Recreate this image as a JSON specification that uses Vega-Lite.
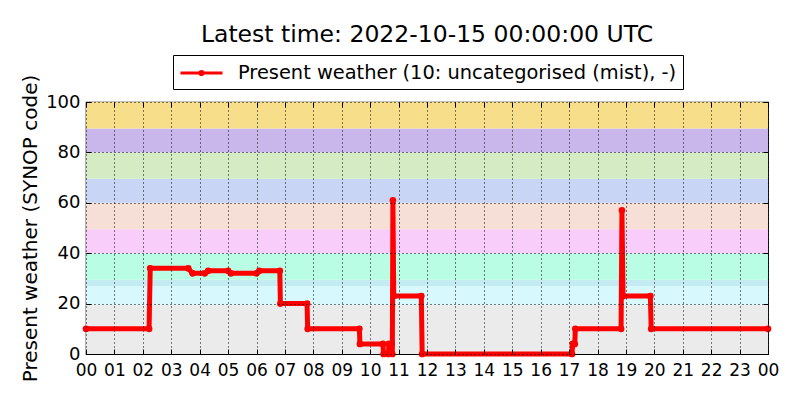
{
  "$schema": "https://vega.github.io/schema/vega-lite/v6.json",
  "width": 682,
  "height": 252,
  "autosize": "none",
  "padding": {"left": 86, "top": 102, "right": 32, "bottom": 46},
  "background": "white",
  "config": {
    "font": "DejaVu Sans",
    "view": {"stroke": "black", "strokeWidth": 1.2},
    "axis": {
      "labelFont": "DejaVu Sans",
      "titleFont": "DejaVu Sans",
      "labelColor": "black",
      "titleColor": "black",
      "tickColor": "black",
      "gridColor": "black",
      "gridDash": [1, 3],
      "gridOpacity": 1,
      "gridWidth": 1,
      "domain": false,
      "labelFontSize": 17,
      "titleFontSize": 20,
      "titleFontWeight": "normal",
      "tickSize": -5,
      "tickWidth": 1
    }
  },
  "title": {
    "text": "Latest time: 2022-10-15 00:00:00 UTC",
    "fontSize": 23.5,
    "fontWeight": "normal",
    "font": "DejaVu Sans",
    "color": "black",
    "anchor": "middle",
    "frame": "group",
    "offset": 8
  },
  "resolve": {"axis": {"x": "independent", "y": "independent"}},
  "datasets": {
    "bands": [
      {"lo": 0, "hi": 19.5, "band": "a"},
      {"lo": 19.5, "hi": 27, "band": "b"},
      {"lo": 27, "hi": 29.5, "band": "c"},
      {"lo": 29.5, "hi": 40, "band": "d"},
      {"lo": 40, "hi": 49.5, "band": "e"},
      {"lo": 49.5, "hi": 60, "band": "f"},
      {"lo": 60, "hi": 69.5, "band": "g"},
      {"lo": 69.5, "hi": 80, "band": "h"},
      {"lo": 80, "hi": 89.5, "band": "i"},
      {"lo": 89.5, "hi": 100, "band": "j"}
    ],
    "obs": [
      {"hour": 0, "code": 10},
      {"hour": 2.22, "code": 10},
      {"hour": 2.26, "code": 34},
      {"hour": 3.6, "code": 34},
      {"hour": 3.75, "code": 32},
      {"hour": 4.18, "code": 32},
      {"hour": 4.3, "code": 33},
      {"hour": 5.0, "code": 33},
      {"hour": 5.1, "code": 32},
      {"hour": 6.0, "code": 32},
      {"hour": 6.1, "code": 33},
      {"hour": 6.82, "code": 33},
      {"hour": 6.84, "code": 20},
      {"hour": 7.78, "code": 20},
      {"hour": 7.8, "code": 10},
      {"hour": 9.62, "code": 10},
      {"hour": 9.64, "code": 4},
      {"hour": 10.45, "code": 4},
      {"hour": 10.47, "code": 0},
      {"hour": 10.64, "code": 0},
      {"hour": 10.66, "code": 4},
      {"hour": 10.76, "code": 4},
      {"hour": 10.78, "code": 0},
      {"hour": 10.8, "code": 61},
      {"hour": 10.83, "code": 23},
      {"hour": 11.8, "code": 23},
      {"hour": 11.83, "code": 0},
      {"hour": 17.1, "code": 0},
      {"hour": 17.13, "code": 4},
      {"hour": 17.2, "code": 4},
      {"hour": 17.22, "code": 10},
      {"hour": 18.83, "code": 10},
      {"hour": 18.86, "code": 57},
      {"hour": 18.9, "code": 23},
      {"hour": 19.86, "code": 23},
      {"hour": 19.89, "code": 10},
      {"hour": 24, "code": 10}
    ]
  },
  "layer": [
    {
      "data": {"name": "bands"},
      "mark": {"type": "rect"},
      "encoding": {
        "x": {"datum": 0, "type": "quantitative",
              "axis": {"orient": "top", "labels": false, "grid": false, "title": null, "zindex": 1,
                       "values": [0,1,2,3,4,5,6,7,8,9,10,11,12,13,14,15,16,17,18,19,20,21,22,23,24]}},
        "x2": {"datum": 24},
        "y": {"field": "lo", "type": "quantitative", "scale": {"domain": [0, 100], "nice": false},
              "axis": {"orient": "right", "labels": false, "grid": false, "values": [0, 20, 40, 60, 80, 100], "title": null, "zindex": 1}},
        "y2": {"field": "hi"},
        "fill": {
          "field": "band", "type": "nominal", "legend": null,
          "scale": {
            "domain": ["a", "b", "c", "d", "e", "f", "g", "h", "i", "j"],
            "range": ["#ebebeb", "#d7f8fc", "#c4eaf2", "#b9fde4", "#f9cdf9", "#f6dfd6", "#c9d5f5", "#d4ebc3", "#c9b7ec", "#f6de8a"]
          }
        }
      }
    },
    {
      "data": {"name": "obs"},
      "mark": {"type": "line", "strokeWidth": 5, "point": {"filled": true, "size": 22, "color": "#ff0000"}},
      "encoding": {
        "x": {
          "field": "hour", "type": "quantitative",
          "scale": {"domain": [0, 24], "nice": false, "zero": false},
          "axis": {
            "orient": "bottom",
            "values": [0,1,2,3,4,5,6,7,8,9,10,11,12,13,14,15,16,17,18,19,20,21,22,23,24],
            "labelExpr": "datum.value >= 24 ? '00' : (datum.value < 10 ? '0' + datum.value : '' + datum.value)",
            "title": null,
            "grid": true,
            "zindex": 1,
            "labelPadding": 13,
            "labelOverlap": false,
            "labelFlush": false
          }
        },
        "y": {
          "field": "code", "type": "quantitative",
          "scale": {"domain": [0, 100], "nice": false},
          "axis": {
            "orient": "left",
            "values": [0, 20, 40, 60, 80, 100],
            "title": "Present weather (SYNOP code)",
            "grid": true,
            "zindex": 1,
            "labelFontSize": 18,
            "labelPadding": 11,
            "titlePadding": 5
          }
        },
        "stroke": {
          "datum": "Present weather (10: uncategorised (mist), -)",
          "type": "nominal",
          "scale": {"range": ["#ff0000"]},
          "legend": {
            "title": null,
            "orient": "none",
            "legendX": 87,
            "legendY": -47,
            "strokeColor": "black",
            "fillColor": "white",
            "padding": 6,
            "labelFontSize": 19.4,
            "labelLimit": 700,
            "labelColor": "black",
            "labelFont": "DejaVu Sans",
            "symbolType": "M-1,0H3M0.85,0A0.15,0.15,0,1,1,1.15,0A0.15,0.15,0,1,1,0.85,0Z",
            "symbolSize": 441,
            "symbolStrokeWidth": 3,
            "symbolFillColor": "#ff0000",
            "labelOffset": 35
          }
        }
      }
    }
  ]
}
